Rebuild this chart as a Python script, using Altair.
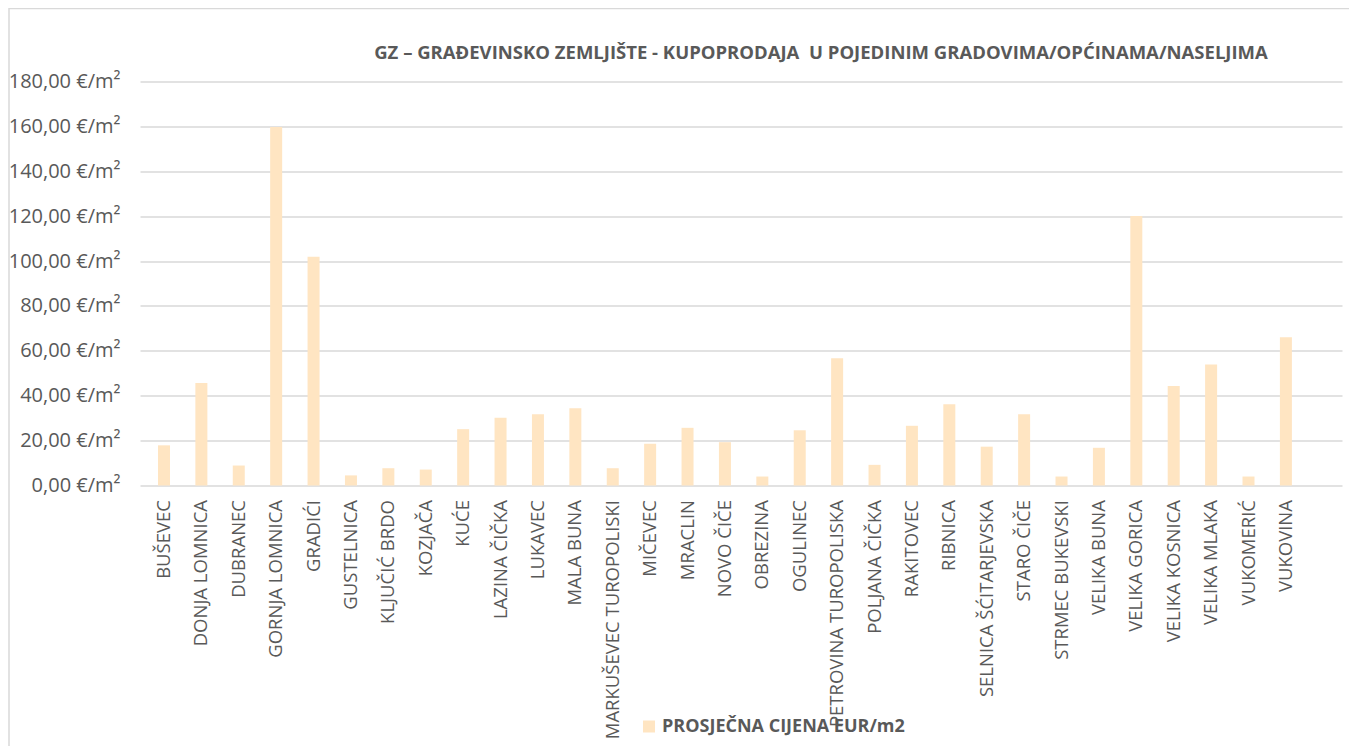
import altair as alt
import pandas as pd

categories = [
    "BUŠEVEC", "DONJA LOMNICA", "DUBRANEC", "GORNJA LOMNICA", "GRADIĆI",
    "GUSTELNICA", "KLJUČIĆ BRDO", "KOZJAČA", "KUĆE", "LAZINA ČIČKA",
    "LUKAVEC", "MALA BUNA", "MARKUŠEVEC TUROPOLISKI", "MIČEVEC", "MRACLIN",
    "NOVO ČIČE", "OBREZINA", "OGULINEC", "PETROVINA TUROPOLISKA", "POLJANA ČIČKA",
    "RAKITOVEC", "RIBNICA", "SELNICA ŠĆITARJEVSKA", "STARO ČIČE", "STRMEC BUKEVSKI",
    "VELIKA BUNA", "VELIKA GORICA", "VELIKA KOSNICA", "VELIKA MLAKA", "VUKOMERIĆ",
    "VUKOVINA",
]
prices = [
    17.9, 45.7, 8.9, 159.7, 101.9,
    4.5, 7.7, 7.1, 25.1, 30.2,
    31.7, 34.4, 7.7, 18.6, 25.7,
    19.3, 4.0, 24.6, 56.7, 9.2,
    26.6, 36.2, 17.3, 31.7, 4.0,
    16.8, 120.1, 44.3, 53.9, 4.0,
    66.1,
]
y_ticks = [0, 20, 40, 60, 80, 100, 120, 140, 160, 180]
series_name = "PROSJEČNA CIJENA EUR/m2"
title_text = "GZ – GRAĐEVINSKO ZEMLJIŠTE - KUPOPRODAJA \u00a0U POJEDINIM GRADOVIMA/OPĆINAMA/NASELJIMA"

df = pd.DataFrame({"naselje": categories, "cijena": prices, "serija": series_name})

FONT = "Open Sans"
GREY = "#595959"
BAR = "#FFE5C2"

bars = alt.Chart(df).mark_bar(color=BAR).encode(
    x=alt.X(
        "naselje:N",
        sort=categories,
        title=None,
        scale=alt.Scale(paddingInner=0.679, paddingOuter=0.91, align=0.264),
        axis=alt.Axis(
            labelAngle=270,
            labelAlign="right",
            labelBaseline="middle",
            labelPadding=14,
            labelFont=FONT,
            labelFontSize=18.5,
            labelColor=GREY,
            ticks=False,
            domain=False,
            labelLimit=400,
        ),
    ),
    y=alt.Y(
        "cijena:Q",
        title=None,
        scale=alt.Scale(domain=[0, 180], nice=False),
        axis=alt.Axis(
            values=y_ticks,
            labelExpr="replace(format(datum.value, '.2f'), '.', ',') + ' €/m²'",
            labelFont=FONT,
            labelFontSize=20,
            labelColor=GREY,
            labelPadding=20,
            ticks=False,
            domain=False,
            grid=True,
            gridColor="#d9d9d9",
            gridWidth=1.5,
        ),
    ),
    color=alt.Color(
        "serija:N",
        scale=alt.Scale(range=[BAR]),
        legend=alt.Legend(
            title=None,
            orient="none",
            legendX=500,
            legendY=636,
            padding=0,
            symbolType="square",
            symbolSize=144,
            symbolStrokeWidth=0,
            labelFont=FONT,
            labelFontSize=18,
            labelFontWeight="bold",
            labelColor=GREY,
            labelLimit=400,
        ),
    ),
)

frame = alt.Chart(alt.Data(values=[{}])).mark_rect(
    fill=None, stroke="#d9d9d9", strokeWidth=1.5
).encode(
    x=alt.value(-131), x2=alt.value(1210), y=alt.value(-73), y2=alt.value(700)
)

title = alt.Chart(alt.Data(values=[{"t": title_text}])).mark_text(
    font=FONT, fontSize=18.5, fontWeight="bold", color=GREY,
    align="center", baseline="alphabetic",
).encode(
    text="t:N", x=alt.value(681), y=alt.value(-22.5)
)

chart = alt.layer(frame, bars, title).properties(
    width=1202,
    height=404,
    autosize=alt.AutoSizeParams(type="none"),
    padding={"left": 132, "top": 73.5, "right": 7, "bottom": 260},
).configure_view(stroke=None)

chart.save("out.html", embed_options={"renderer": "svg", "actions": False})
